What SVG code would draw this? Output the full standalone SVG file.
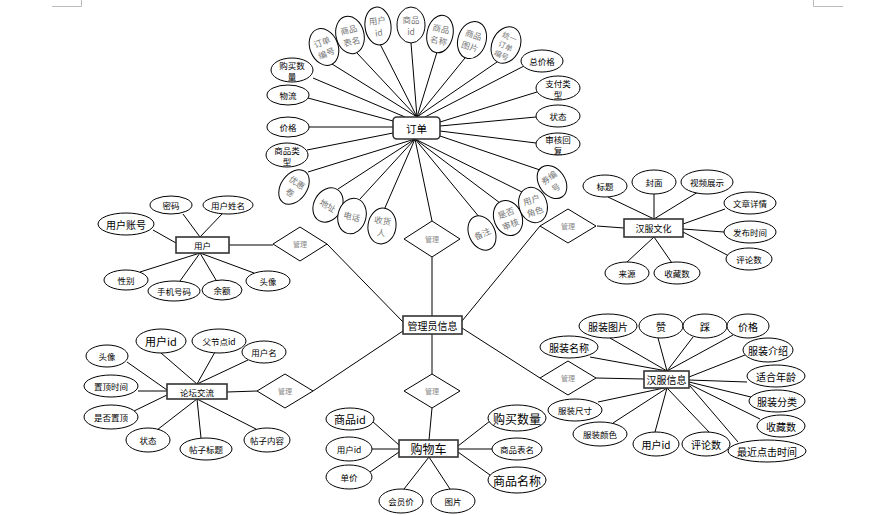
<svg xmlns="http://www.w3.org/2000/svg" width="871" height="515" viewBox="0 0 871 515">
<style>
.e{fill:#fff;stroke:#000;stroke-width:1}
.d{fill:#fff;stroke:#000;stroke-width:1}
.r{fill:#fff;stroke:#333;stroke-width:1.6}
.c line{stroke:#000;stroke-width:1}
text{font-family:"Noto Sans CJK SC","Noto Sans",sans-serif;text-anchor:middle;dominant-baseline:central;fill:#000}
.s{font-size:8.5px}
.m{font-size:10px}
.l{font-size:12px}
.g{font-size:8.5px;fill:#777}
.g3{font-size:7.5px;fill:#777}
.dt{font-size:7px;fill:#888}
.mark{fill:none;stroke:#bbb;stroke-width:1}
</style>
<path class="mark" d="M52,6.5H81.5V0"/>
<path class="mark" d="M813.5,0V6.5H843"/>
<g id="connectors" class="c">
<line x1="332" y1="64" x2="417" y2="117"/>
<line x1="357" y1="53" x2="417" y2="117"/>
<line x1="380" y1="44" x2="417" y2="117"/>
<line x1="411" y1="43" x2="417" y2="117"/>
<line x1="437" y1="52" x2="417" y2="117"/>
<line x1="465" y1="58" x2="417" y2="117"/>
<line x1="497" y1="62" x2="417" y2="117"/>
<line x1="524" y1="66" x2="425" y2="117"/>
<line x1="313" y1="78" x2="405" y2="117"/>
<line x1="308" y1="98" x2="393" y2="121"/>
<line x1="309" y1="127" x2="393" y2="127"/>
<line x1="307" y1="150" x2="393" y2="133"/>
<line x1="537" y1="92" x2="440" y2="122"/>
<line x1="536" y1="117" x2="440" y2="126"/>
<line x1="536" y1="143" x2="440" y2="131"/>
<line x1="540" y1="170" x2="440" y2="136"/>
<line x1="308" y1="172" x2="415" y2="139"/>
<line x1="338" y1="189" x2="415" y2="139"/>
<line x1="360" y1="199" x2="415" y2="139"/>
<line x1="384" y1="210" x2="415" y2="139"/>
<line x1="480" y1="218" x2="415" y2="139"/>
<line x1="500" y1="203" x2="415" y2="139"/>
<line x1="522" y1="192" x2="415" y2="139"/>
<line x1="415" y1="139" x2="432" y2="221"/>
<line x1="432" y1="257" x2="432" y2="316"/>
<line x1="327" y1="244" x2="403" y2="322"/>
<line x1="462" y1="321" x2="540" y2="226"/>
<line x1="462" y1="328" x2="540" y2="378"/>
<line x1="313" y1="391" x2="403" y2="331"/>
<line x1="432" y1="334" x2="432" y2="374"/>
<line x1="229" y1="245" x2="273" y2="245"/>
<line x1="153" y1="230" x2="176" y2="243"/>
<line x1="183" y1="214" x2="200" y2="237"/>
<line x1="222" y1="214" x2="200" y2="237"/>
<line x1="140" y1="272" x2="200" y2="253"/>
<line x1="180" y1="281" x2="200" y2="253"/>
<line x1="216" y1="280" x2="200" y2="253"/>
<line x1="254" y1="273" x2="200" y2="253"/>
<line x1="597" y1="226" x2="624" y2="228"/>
<line x1="608" y1="197" x2="654" y2="219"/>
<line x1="654" y1="194" x2="654" y2="219"/>
<line x1="698" y1="192" x2="654" y2="219"/>
<line x1="725" y1="209" x2="683" y2="224"/>
<line x1="724" y1="232" x2="683" y2="229"/>
<line x1="729" y1="256" x2="683" y2="232"/>
<line x1="627" y1="262" x2="654" y2="237"/>
<line x1="672" y1="263" x2="654" y2="237"/>
<line x1="227" y1="392" x2="257" y2="391"/>
<line x1="127" y1="362" x2="167" y2="390"/>
<line x1="138" y1="391" x2="167" y2="391"/>
<line x1="134" y1="411" x2="167" y2="395"/>
<line x1="161" y1="353" x2="197" y2="384"/>
<line x1="215" y1="352" x2="197" y2="384"/>
<line x1="248" y1="360" x2="197" y2="384"/>
<line x1="157" y1="430" x2="197" y2="399"/>
<line x1="201" y1="438" x2="197" y2="399"/>
<line x1="256" y1="429" x2="197" y2="399"/>
<line x1="432" y1="408" x2="429" y2="440"/>
<line x1="372" y1="421" x2="399" y2="445"/>
<line x1="372" y1="449" x2="399" y2="449"/>
<line x1="370" y1="472" x2="399" y2="452"/>
<line x1="404" y1="489" x2="429" y2="457"/>
<line x1="450" y1="489" x2="429" y2="457"/>
<line x1="490" y1="421" x2="458" y2="446"/>
<line x1="492" y1="449" x2="458" y2="449"/>
<line x1="490" y1="475" x2="458" y2="452"/>
<line x1="596" y1="378" x2="644" y2="379"/>
<line x1="610" y1="338" x2="667" y2="371"/>
<line x1="658" y1="338" x2="667" y2="371"/>
<line x1="693" y1="337" x2="667" y2="371"/>
<line x1="733" y1="335" x2="667" y2="371"/>
<line x1="590" y1="357" x2="667" y2="371"/>
<line x1="745" y1="355" x2="689" y2="377"/>
<line x1="747" y1="382" x2="689" y2="380"/>
<line x1="751" y1="397" x2="689" y2="382"/>
<line x1="760" y1="419" x2="689" y2="384"/>
<line x1="738" y1="442" x2="690" y2="386"/>
<line x1="710" y1="433" x2="667" y2="388"/>
<line x1="655" y1="432" x2="667" y2="388"/>
<line x1="613" y1="423" x2="667" y2="388"/>
<line x1="598" y1="402" x2="664" y2="388"/>
</g>

<g id="order">
<rect class="r" x="393" y="117" width="47" height="22" rx="4"/>
<text x="416.5" y="128" style="font-size:10.5px">订单</text>
</g>
<g id="order-attr-ddbh" transform="translate(324,47) rotate(-22)"><ellipse class="e" rx="14" ry="19"/><text class="g"><tspan x="0" y="-6">订单</tspan><tspan x="0" y="6">编号</tspan></text></g>
<g id="order-attr-spbm" transform="translate(350,35) rotate(-14)"><ellipse class="e" rx="14" ry="19"/><text class="g"><tspan x="0" y="-6">商品</tspan><tspan x="0" y="6">表名</tspan></text></g>
<g id="order-attr-yhid" transform="translate(378,26) rotate(-7)"><ellipse class="e" rx="13" ry="19"/><text class="g"><tspan x="0" y="-6">用户</tspan><tspan x="0" y="6">id</tspan></text></g>
<g id="order-attr-spid" transform="translate(411,25)"><ellipse class="e" rx="14" ry="18"/><text class="g"><tspan x="0" y="-6">商品</tspan><tspan x="0" y="6">id</tspan></text></g>
<g id="order-attr-spmc" transform="translate(440,34) rotate(12)"><ellipse class="e" rx="13" ry="19"/><text class="g"><tspan x="0" y="-6">商品</tspan><tspan x="0" y="6">名称</tspan></text></g>
<g id="order-attr-sptp" transform="translate(472,40) rotate(18)"><ellipse class="e" rx="14" ry="19"/><text class="g"><tspan x="0" y="-6">商品</tspan><tspan x="0" y="6">图片</tspan></text></g>
<g id="order-attr-tyddbh" transform="translate(506,45) rotate(24)"><ellipse class="e" rx="14" ry="19"/><text class="g3"><tspan x="0" y="-10">统一</tspan><tspan x="0" y="0">订单</tspan><tspan x="0" y="10">编号</tspan></text></g>
<g id="order-attr-gmsl"><ellipse class="e" cx="292" cy="70" rx="21" ry="12"/><text class="s"><tspan x="292" y="65">购买数</tspan><tspan x="292" y="76">量</tspan></text></g>
<g id="order-attr-wl"><ellipse class="e" cx="288" cy="95" rx="21" ry="10"/><text class="s" x="288" y="95">物流</text></g>
<g id="order-attr-jg"><ellipse class="e" cx="288" cy="127" rx="21" ry="10"/><text class="s" x="288" y="127">价格</text></g>
<g id="order-attr-splx"><ellipse class="e" cx="287" cy="155" rx="21" ry="12"/><text class="s"><tspan x="287" y="150">商品类</tspan><tspan x="287" y="161">型</tspan></text></g>
<g id="order-attr-zjg"><ellipse class="e" cx="542" cy="61" rx="21" ry="11"/><text class="s" x="542" y="61">总价格</text></g>
<g id="order-attr-zflx"><ellipse class="e" cx="558" cy="88" rx="22" ry="12"/><text class="s"><tspan x="558" y="83">支付类</tspan><tspan x="558" y="94">型</tspan></text></g>
<g id="order-attr-zt"><ellipse class="e" cx="558" cy="116" rx="22" ry="11"/><text class="s" x="558" y="116">状态</text></g>
<g id="order-attr-shhf"><ellipse class="e" cx="558" cy="144" rx="22" ry="11"/><text class="s"><tspan x="558" y="139">审核回</tspan><tspan x="558" y="150">复</tspan></text></g>
<g id="order-attr-yhj" transform="translate(294,187) rotate(35)"><ellipse class="e" rx="13" ry="19"/><text class="g"><tspan x="0" y="-6">优惠</tspan><tspan x="0" y="6">卷</tspan></text></g>
<g id="order-attr-dz" transform="translate(328,205) rotate(30)"><ellipse class="e" rx="14" ry="18"/><text class="g" x="0" y="0">地址</text></g>
<g id="order-attr-dh" transform="translate(352,216) rotate(15)"><ellipse class="e" rx="14" ry="18"/><text class="g" x="0" y="0">电话</text></g>
<g id="order-attr-shr" transform="translate(382,226) rotate(8)"><ellipse class="e" rx="14" ry="18"/><text class="g"><tspan x="0" y="-6">收货</tspan><tspan x="0" y="6">人</tspan></text></g>
<g id="order-attr-bz" transform="translate(482,233) rotate(-25)"><ellipse class="e" rx="13" ry="18"/><text class="g" x="0" y="0">备注</text></g>
<g id="order-attr-sfsh" transform="translate(508,218) rotate(-22)"><ellipse class="e" rx="14" ry="18"/><text class="g"><tspan x="0" y="-6">是否</tspan><tspan x="0" y="6">审核</tspan></text></g>
<g id="order-attr-yhjs" transform="translate(533,205) rotate(-18)"><ellipse class="e" rx="14" ry="18"/><text class="g"><tspan x="0" y="-6">用户</tspan><tspan x="0" y="6">角色</tspan></text></g>
<g id="order-attr-qbh" transform="translate(552,182) rotate(-35)"><ellipse class="e" rx="13" ry="18"/><text class="g"><tspan x="0" y="-6">券编</tspan><tspan x="0" y="6">号</tspan></text></g>
<g id="order-rel"><polygon class="d" points="432,221 460,239 432,257 404,239"/><text class="dt" x="432" y="239">管理</text></g>

<g id="admin">
<rect class="r" x="403" y="316" width="59" height="18"/>
<text x="432.5" y="325" style="font-size:10px">管理员信息</text>
</g>

<g id="user">
<rect class="r" x="176" y="237" width="53" height="16"/>
<text class="s" x="202.5" y="245">用户</text>
</g>
<g id="user-rel"><polygon class="d" points="300,227 327,244 300,261 273,244"/><text class="dt" x="300" y="244">管理</text></g>
<g id="user-attr-zh"><ellipse class="e" cx="126" cy="224" rx="28" ry="11"/><text class="m" x="126" y="224">用户账号</text></g>
<g id="user-attr-mm"><ellipse class="e" cx="171" cy="205" rx="21" ry="9"/><text class="s" x="171" y="205">密码</text></g>
<g id="user-attr-xm"><ellipse class="e" cx="228" cy="205" rx="25" ry="9"/><text class="s" x="228" y="205">用户姓名</text></g>
<g id="user-attr-xb"><ellipse class="e" cx="126" cy="280" rx="22" ry="10"/><text class="s" x="126" y="280">性别</text></g>
<g id="user-attr-sj"><ellipse class="e" cx="174" cy="291" rx="26" ry="10"/><text class="s" x="174" y="291">手机号码</text></g>
<g id="user-attr-ye"><ellipse class="e" cx="222" cy="290" rx="20" ry="10"/><text class="s" x="222" y="290">余额</text></g>
<g id="user-attr-tx"><ellipse class="e" cx="268" cy="281" rx="22" ry="10"/><text class="s" x="268" y="281">头像</text></g>

<g id="culture">
<rect class="r" x="624" y="219" width="59" height="18"/>
<text x="653.5" y="228" style="font-size:9px">汉服文化</text>
</g>
<g id="culture-rel"><polygon class="d" points="568,209 596,226 568,243 540,226"/><text class="dt" x="568" y="226">管理</text></g>
<g id="culture-attr-bt"><ellipse class="e" cx="605" cy="186" rx="22" ry="11"/><text class="s" x="605" y="186">标题</text></g>
<g id="culture-attr-fm"><ellipse class="e" cx="654" cy="182" rx="22" ry="12"/><text class="s" x="654" y="182">封面</text></g>
<g id="culture-attr-sp"><ellipse class="e" cx="707" cy="182" rx="26" ry="12"/><text class="s" x="707" y="182">视频展示</text></g>
<g id="culture-attr-wz"><ellipse class="e" cx="750" cy="203" rx="26" ry="11"/><text class="s" x="750" y="203">文章详情</text></g>
<g id="culture-attr-fb"><ellipse class="e" cx="750" cy="232" rx="26" ry="11"/><text class="s" x="750" y="232">发布时间</text></g>
<g id="culture-attr-pl"><ellipse class="e" cx="749" cy="259" rx="23" ry="11"/><text class="s" x="749" y="259">评论数</text></g>
<g id="culture-attr-ly"><ellipse class="e" cx="627" cy="273" rx="22" ry="11"/><text class="s" x="627" y="273">来源</text></g>
<g id="culture-attr-sc"><ellipse class="e" cx="677" cy="273" rx="23" ry="11"/><text class="s" x="677" y="273">收藏数</text></g>

<g id="forum">
<rect class="r" x="167" y="384" width="60" height="15"/>
<text class="s" x="197" y="391.5">论坛交流</text>
</g>
<g id="forum-rel"><polygon class="d" points="285,374 313,391 285,408 257,391"/><text class="dt" x="285" y="391">管理</text></g>
<g id="forum-attr-yhid"><ellipse class="e" cx="161" cy="341" rx="25" ry="12"/><text x="161" y="341" style="font-size:11px">用户id</text></g>
<g id="forum-attr-fjd"><ellipse class="e" cx="219" cy="341" rx="27" ry="12"/><text class="s" x="219" y="341">父节点id</text></g>
<g id="forum-attr-yhm"><ellipse class="e" cx="264" cy="352" rx="22" ry="11"/><text class="s" x="264" y="352">用户名</text></g>
<g id="forum-attr-tx"><ellipse class="e" cx="107" cy="356" rx="21" ry="11"/><text class="s" x="107" y="356">头像</text></g>
<g id="forum-attr-zdsj"><ellipse class="e" cx="111" cy="386" rx="27" ry="11"/><text class="s" x="111" y="386">置顶时间</text></g>
<g id="forum-attr-sfzd"><ellipse class="e" cx="111" cy="417" rx="27" ry="12"/><text class="s" x="111" y="417">是否置顶</text></g>
<g id="forum-attr-zt"><ellipse class="e" cx="148" cy="440" rx="22" ry="12"/><text class="s" x="148" y="440">状态</text></g>
<g id="forum-attr-tzbt"><ellipse class="e" cx="206" cy="449" rx="26" ry="11"/><text class="s" x="206" y="449">帖子标题</text></g>
<g id="forum-attr-tznr"><ellipse class="e" cx="267" cy="440" rx="23" ry="12"/><text class="s" x="267" y="440">帖子内容</text></g>

<g id="cart">
<rect class="r" x="399" y="440" width="59" height="17"/>
<text class="l" x="428.5" y="448.5">购物车</text>
</g>
<g id="cart-rel"><polygon class="d" points="432,374 460,391 432,408 404,391"/><text class="dt" x="432" y="391">管理</text></g>
<g id="cart-attr-spid"><ellipse class="e" cx="350" cy="419" rx="24" ry="11"/><text x="350" y="419" style="font-size:11px">商品id</text></g>
<g id="cart-attr-yhid"><ellipse class="e" cx="349" cy="449" rx="23" ry="12"/><text class="s" x="349" y="449">用户id</text></g>
<g id="cart-attr-dj"><ellipse class="e" cx="349" cy="477" rx="23" ry="12"/><text class="s" x="349" y="477">单价</text></g>
<g id="cart-attr-hyj"><ellipse class="e" cx="401" cy="501" rx="22" ry="12"/><text class="s" x="401" y="501">会员价</text></g>
<g id="cart-attr-tp"><ellipse class="e" cx="453" cy="501" rx="22" ry="12"/><text class="s" x="453" y="501">图片</text></g>
<g id="cart-attr-gmsl"><ellipse class="e" cx="517" cy="418" rx="29" ry="13"/><text class="l" x="517" y="418">购买数量</text></g>
<g id="cart-attr-spbm"><ellipse class="e" cx="517" cy="449" rx="25" ry="11"/><text class="s" x="517" y="449">商品表名</text></g>
<g id="cart-attr-spmc"><ellipse class="e" cx="517" cy="480" rx="29" ry="13"/><text class="l" x="517" y="480">商品名称</text></g>

<g id="clothing">
<rect class="r" x="644" y="371" width="45" height="17"/>
<text class="m" x="666.5" y="379.5">汉服信息</text>
</g>
<g id="clothing-rel"><polygon class="d" points="568,361 596,378 568,395 540,378"/><text class="dt" x="568" y="378">管理</text></g>
<g id="clothing-attr-fztp"><ellipse class="e" cx="608" cy="326" rx="29" ry="12"/><text class="m" x="608" y="326">服装图片</text></g>
<g id="clothing-attr-z"><ellipse class="e" cx="661" cy="326" rx="22" ry="12"/><text class="m" x="661" y="326">赞</text></g>
<g id="clothing-attr-c"><ellipse class="e" cx="705" cy="326" rx="22" ry="12"/><text class="m" x="705" y="326">踩</text></g>
<g id="clothing-attr-jg"><ellipse class="e" cx="748" cy="326" rx="21" ry="12"/><text class="m" x="748" y="326">价格</text></g>
<g id="clothing-attr-fzmc"><ellipse class="e" cx="569" cy="347" rx="29" ry="11"/><text class="m" x="569" y="347">服装名称</text></g>
<g id="clothing-attr-fzjs"><ellipse class="e" cx="768" cy="350" rx="25" ry="12"/><text class="m" x="768" y="350">服装介绍</text></g>
<g id="clothing-attr-shnl"><ellipse class="e" cx="776" cy="376" rx="29" ry="11"/><text class="m" x="776" y="376">适合年龄</text></g>
<g id="clothing-attr-fzfl"><ellipse class="e" cx="777" cy="401" rx="28" ry="11"/><text class="m" x="777" y="401">服装分类</text></g>
<g id="clothing-attr-scs"><ellipse class="e" cx="781" cy="426" rx="24" ry="11"/><text class="m" x="781" y="426">收藏数</text></g>
<g id="clothing-attr-zjdj"><ellipse class="e" cx="767" cy="451" rx="39" ry="11"/><text class="m" x="767" y="451">最近点击时间</text></g>
<g id="clothing-attr-pls"><ellipse class="e" cx="706" cy="444" rx="24" ry="12"/><text class="m" x="706" y="444">评论数</text></g>
<g id="clothing-attr-yhid"><ellipse class="e" cx="656" cy="444" rx="23" ry="12"/><text class="m" x="656" y="444">用户id</text></g>
<g id="clothing-attr-fzys"><ellipse class="e" cx="600" cy="434" rx="27" ry="12"/><text class="s" x="600" y="434">服装颜色</text></g>
<g id="clothing-attr-fzcc"><ellipse class="e" cx="575" cy="410" rx="27" ry="11"/><text class="s" x="575" y="410">服装尺寸</text></g>
</svg>
